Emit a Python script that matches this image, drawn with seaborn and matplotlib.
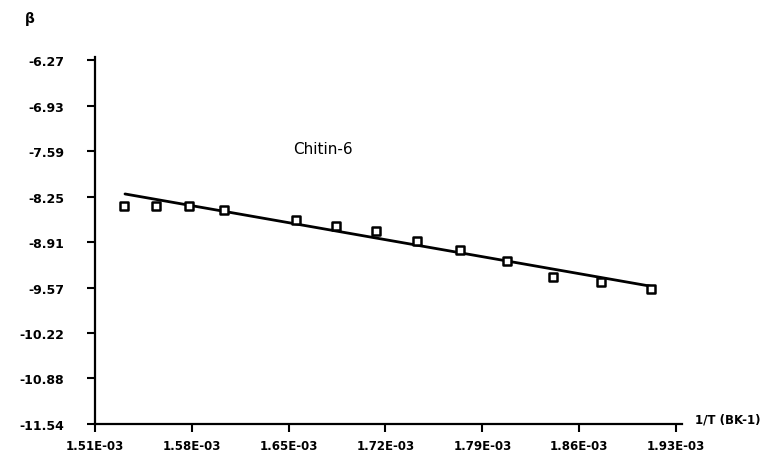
import matplotlib
matplotlib.use("Agg")
import matplotlib.pyplot as plt
import seaborn as sns
import pandas as pd

# Data
inv_T = [1.531e-3, 1.554e-3, 1.578e-3, 1.603e-3, 1.655e-3, 1.6845e-3, 1.713e-3,
         1.743e-3, 1.774e-3, 1.8075e-3, 1.841e-3, 1.876e-3, 1.912e-3]
beta = [-8.379, -8.388, -8.388, -8.442, -8.586, -8.669, -8.746,
        -8.886, -9.021, -9.176, -9.416, -9.488, -9.585]
fit_x = [1.5317e-3, 1.9135e-3]
fit_y = [-8.21, -9.552]
x_ticks = [1.51e-3, 1.58e-3, 1.65e-3, 1.72e-3, 1.79e-3, 1.86e-3, 1.93e-3]
x_tick_labels = ["1.51E-03", "1.58E-03", "1.65E-03", "1.72E-03", "1.79E-03", "1.86E-03", "1.93E-03"]
y_ticks = [-6.27, -6.93, -7.59, -8.25, -8.91, -9.57, -10.22, -10.88, -11.54]
y_tick_labels = ["-6.27", "-6.93", "-7.59", "-8.25", "-8.91", "-9.57", "-10.22", "-10.88", "-11.54"]

sns.set_theme(style="white")
plt.rcParams['font.family'] = ['DejaVu Sans']
plt.rcParams['text.color'] = 'black'
plt.rcParams['xtick.color'] = 'black'
plt.rcParams['ytick.color'] = 'black'

fig = plt.figure(figsize=(7.83, 4.64), dpi=100)
ax = fig.add_axes([0.1213, 0.0841, 0.750, 0.791])

pts = pd.DataFrame({"x": inv_T, "y": beta})
fit = pd.DataFrame({"x": fit_x, "y": fit_y})

sns.lineplot(data=fit, x="x", y="y", ax=ax, color="black", linewidth=2.0)
sns.scatterplot(data=pts, x="x", y="y", ax=ax, marker="s", s=30,
                facecolor="white", edgecolor="black", linewidth=1.8, zorder=3)

ax.set_xlim(1.51e-3, 1.9345e-3)
ax.set_ylim(-11.54, -6.2266)
ax.set_xticks(x_ticks)
ax.set_xticklabels(x_tick_labels, fontsize=8.5, fontweight="bold", color="black")
ax.set_yticks(y_ticks)
ax.set_yticklabels(y_tick_labels, fontsize=9, fontweight="bold", color="black")
ax.set_xlabel("")
ax.set_ylabel("")

for s in ["top", "right"]:
    ax.spines[s].set_visible(False)
for s in ["left", "bottom"]:
    ax.spines[s].set_color("black")
    ax.spines[s].set_linewidth(1.6)

ax.tick_params(axis="y", direction="out", length=6, width=1.5, color="black", pad=16, left=True)
ax.tick_params(axis="x", direction="out", length=6, width=1.5, color="black", pad=5, bottom=True)

fig.text(30 / 783, 1 - 19 / 464, "β", fontsize=10, fontweight="bold", ha="center", va="center", color="black")
fig.text(323 / 783, 1 - 150 / 464, "Chitin-6", fontsize=11, ha="center", va="center", color="black")
fig.text(695 / 783, 1 - 420 / 464, "1/T (BK-1)", fontsize=8.5, fontweight="bold", ha="left", va="center", color="black")

fig.savefig("out.png", dpi=100)
